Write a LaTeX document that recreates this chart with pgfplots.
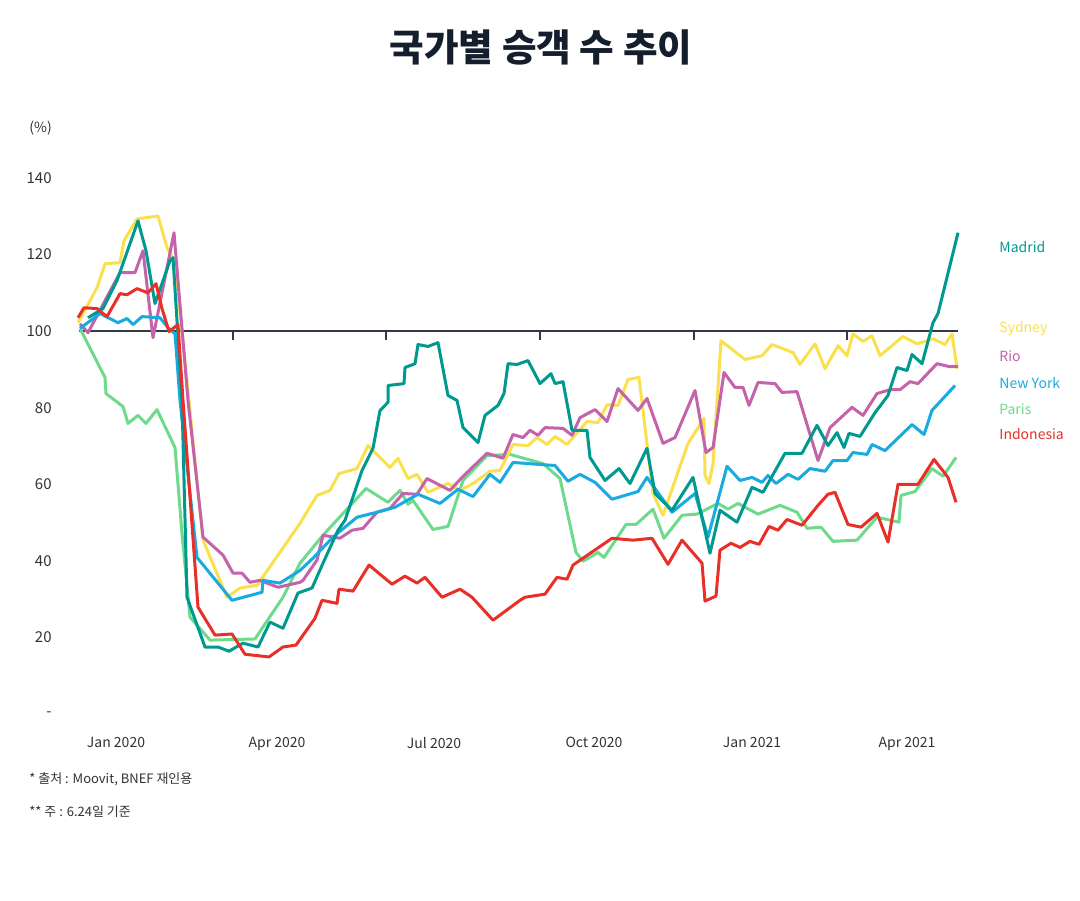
\documentclass[border=0pt]{standalone}
\usepackage{pgfplots}
\pgfplotsset{compat=1.18}
\usepackage{fontspec}
\setmainfont{Noto Sans CJK KR}
\definecolor{cmadrid}{RGB}{0,153,143}
\definecolor{csydney}{RGB}{250,224,76}
\definecolor{crio}{RGB}{196,98,170}
\definecolor{cny}{RGB}{24,170,224}
\definecolor{cparis}{RGB}{110,218,140}
\definecolor{cindo}{RGB}{232,48,40}
\definecolor{caxis}{RGB}{51,56,70}
\definecolor{ctitle}{RGB}{20,30,45}
\definecolor{ctext}{RGB}{50,50,50}
\begin{document}
\begin{tikzpicture}[x=0.5pt,y=0.5pt]
\useasboundingbox (0,0) rectangle (1080,900);
\begin{axis}[
  at={(39.5pt,93pt)}, anchor=south west,
  scale only axis, width=439.5pt, height=268pt,
  xmin=79, xmax=958, ymin=0, ymax=140,
  clip=false,
  axis line style={draw=none},
  tick style={draw=none},
  major tick length=0pt,
  /pgf/number format/assume math mode=true,
  ytick={0,20,40,60,80,100,120,140},
  yticklabels={-,20,40,60,80,100,120,140},
  yticklabel style={anchor=east, inner sep=0pt, xshift=-13.5pt, font=\fontsize{7.5}{9}\selectfont, text=ctext},
  xtick={116,277,434,594,752,907},
  xticklabels={Jan 2020,Apr 2020,Jul 2020,Oct 2020,Jan 2021,Apr 2021},
  xticklabel style={anchor=north, inner sep=0pt, yshift=-11.5pt, font=\fontsize{7}{9}\selectfont, text=ctext},
  every axis plot/.append style={line width=1.5pt, line join=round, no markers},
]
\draw[caxis, line width=1pt] (axis cs:79,100) -- (axis cs:958,100);
\draw[caxis, line width=1pt] (axis cs:233,100) -- (axis cs:233,97.7);
\draw[caxis, line width=1pt] (axis cs:386,100) -- (axis cs:386,97.7);
\draw[caxis, line width=1pt] (axis cs:540,100) -- (axis cs:540,97.7);
\draw[caxis, line width=1pt] (axis cs:694,100) -- (axis cs:694,97.7);
\draw[caxis, line width=1pt] (axis cs:847,100) -- (axis cs:847,97.7);
% Paris
\addplot[cparis] coordinates {
(80,100.7)(105,87.9)(106,83.7)(123,80.3)(128,75.9)(138,78.0)(146,75.9)(157,79.5)(175,69.6)(182,47.2)(190,25.3)(210,19.3)(255,19.6)(283,30.5)(300,39.4)(323,46.7)(366,58.9)(388,55.3)(400,58.4)(408,54.8)(413,55.8)(433,48.2)(448,49.0)(463,61.0)(487,67.5)(510,67.8)(543,65.4)(560,61.5)(576,42.2)(583,39.9)(598,42.2)(604,40.9)(626,49.5)(636,49.5)(653,53.5)(664,45.9)(682,51.9)(697,52.2)(718,55.0)(728,53.5)(738,55.0)(758,52.2)(780,54.5)(797,52.7)(807,48.5)(821,48.8)(833,45.1)(857,45.4)(877,51.4)(899,50.1)(901,57.1)(915,58.1)(932,64.1)(943,62.1)(956,67.0)
};
% Sydney
\addplot[csydney] coordinates {
(78,102.2)(97,111.3)(105,117.6)(120,117.9)(124,123.6)(137,129.3)(158,130.1)(167,121.8)(175,117.9)(203,45.4)(227,30.5)(240,32.9)(257,33.6)(300,49.8)(317,57.1)(330,58.4)(339,62.8)(357,64.1)(368,70.1)(390,64.4)(398,66.8)(408,61.5)(417,62.6)(428,57.9)(448,60.2)(460,58.4)(473,60.2)(490,63.4)(500,63.6)(513,70.4)(528,70.1)(537,72.2)(547,70.4)(555,72.5)(567,70.4)(587,76.4)(598,76.1)(607,80.8)(618,80.6)(628,87.4)(639,87.9)(653,57.6)(663,51.9)(688,70.7)(704,77.2)(705,62.3)(709,60.2)(713,65.4)(721,97.5)(745,92.6)(762,93.6)(772,96.5)(793,94.4)(800,91.3)(815,96.7)(825,90.2)(838,96.2)(847,93.6)(853,99.3)(863,97.3)(872,98.8)(880,93.6)(903,98.6)(917,96.7)(933,98.0)(945,96.5)(952,99.3)(957,90.2)
};
% Rio
\addplot[crio] coordinates {
(80,101.9)(88,99.6)(120,115.3)(135,115.3)(143,121.0)(153,98.3)(174,125.7)(188,81.9)(203,46.2)(223,41.5)(233,36.8)(242,36.8)(250,34.4)(260,34.9)(278,33.1)(300,34.4)(303,34.9)(317,40.2)(323,46.7)(340,45.9)(352,48.0)(363,48.5)(377,52.7)(390,53.7)(403,57.6)(417,57.4)(427,61.5)(450,58.4)(462,61.8)(487,68.1)(503,66.8)(513,73.0)(523,72.2)(530,74.1)(538,72.8)(545,74.8)(563,74.6)(572,72.8)(580,77.4)(595,79.5)(607,76.4)(618,85.0)(638,79.3)(647,82.4)(663,70.7)(675,72.2)(695,84.5)(706,68.3)(713,69.6)(724,89.2)(735,85.3)(743,85.3)(749,80.6)(758,86.6)(775,86.3)(782,84.0)(797,84.2)(818,66.2)(830,74.8)(852,80.1)(863,78.0)(877,83.7)(890,84.7)(900,84.7)(910,86.8)(918,86.3)(937,91.5)(950,90.7)(958,90.7)
};
% New York
\addplot[cny] coordinates {
(80,100.7)(100,104.6)(118,102.2)(127,103.3)(133,101.7)(142,103.8)(160,103.5)(168,100.9)(175,99.3)(180,81.9)(197,40.9)(232,29.7)(262,31.8)(263,34.9)(280,34.2)(300,37.5)(313,40.7)(333,46.2)(357,51.4)(377,52.7)(395,54.0)(418,57.4)(440,55.0)(458,58.7)(473,56.8)(490,62.6)(500,60.5)(513,65.7)(555,64.9)(568,60.8)(580,62.6)(595,60.5)(612,56.1)(638,58.1)(647,61.8)(672,52.7)(695,57.6)(708,46.2)(727,64.7)(740,61.0)(752,61.8)(762,60.5)(768,62.3)(776,60.2)(788,62.6)(798,61.3)(810,64.1)(825,63.4)(833,66.2)(847,66.2)(853,68.3)(867,67.8)(872,70.4)(885,68.8)(912,75.6)(924,73.0)(932,79.3)(955,85.8)
};
% Madrid
\addplot[cmadrid] coordinates {
(88,103.5)(103,105.9)(117,113.2)(138,128.8)(146,121.0)(155,107.2)(170,118.4)(173,119.2)(177,102.7)(182,81.9)(187,30.5)(205,17.5)(218,17.5)(229,16.4)(243,18.5)(258,17.5)(270,24.0)(283,22.4)(298,31.6)(312,32.9)(323,39.4)(338,48.0)(345,50.6)(362,63.6)(373,69.4)(380,79.3)(388,81.4)(388,85.8)(404,86.3)(405,90.5)(415,91.5)(418,96.5)(428,96.0)(438,97.0)(448,83.2)(457,81.9)(463,74.8)(478,70.9)(485,78.0)(498,80.6)(504,83.7)(508,91.5)(517,91.3)(528,92.3)(540,86.3)(551,88.9)(555,86.3)(563,86.8)(572,74.1)(587,74.1)(590,67.0)(605,61.0)(619,64.1)(630,60.2)(647,69.4)(655,57.6)(672,53.2)(693,61.8)(710,42.0)(720,53.2)(737,50.1)(752,59.2)(763,57.9)(785,68.1)(802,68.1)(817,75.4)(828,70.1)(837,73.5)(844,69.6)(849,73.3)(860,72.5)(875,78.7)(888,83.2)(897,90.5)(907,89.7)(912,93.9)(922,91.5)(933,102.2)(938,104.6)(958,125.7)
};
% Indonesia
\addplot[cindo] coordinates {
(78,103.5)(84,106.1)(97,105.9)(107,103.8)(120,109.8)(127,109.5)(137,111.1)(148,110.0)(156,112.4)(162,105.9)(169,99.9)(178,101.7)(183,81.9)(198,27.9)(215,20.6)(232,20.9)(245,15.6)(269,14.9)(283,17.5)(296,18.0)(315,25.0)(322,29.7)(337,28.9)(339,32.6)(353,32.1)(369,38.9)(392,33.9)(405,36.0)(417,34.2)(425,35.7)(442,30.5)(460,32.6)(472,30.5)(493,24.5)(520,29.7)(525,30.5)(545,31.3)(557,35.7)(567,35.2)(573,38.9)(612,45.9)(633,45.4)(652,45.9)(668,39.1)(682,45.4)(702,39.4)(705,29.5)(716,30.8)(720,42.8)(731,44.6)(740,43.5)(750,45.1)(759,44.3)(769,49.0)(778,48.0)(787,50.8)(802,49.3)(818,54.5)(828,57.4)(835,57.9)(848,49.5)(861,48.8)(877,52.4)(888,44.9)(898,60.0)(918,60.0)(934,66.5)(948,61.8)(956,55.3)
};
\end{axis}
% title
\node[font=\fontsize{18.8}{22}\selectfont\bfseries, text=ctitle] at (541,853) {국가별 승객 수 추이};
% unit
\node[anchor=west, inner sep=0pt, font=\fontsize{7}{9}\selectfont, text=ctext] at (29,772) {(\%)};
% series labels
\begin{scope}[every node/.style={anchor=west, inner sep=0pt, font=\fontsize{7}{9}\selectfont}]
\node[text=cmadrid] at (999,653) {Madrid};
\node[text=csydney] at (999,571) {Sydney};
\node[text=crio] at (999,544) {Rio};
\node[text=cny] at (999,517) {New York};
\node[text=cparis] at (999,491) {Paris};
\node[text=cindo] at (999,466) {Indonesia};
\end{scope}
% footnotes
\node[anchor=west, inner sep=0pt, font=\fontsize{6.5}{8}\selectfont, text=ctext] at (29,121) {* 출처 : Moovit, BNEF 재인용};
\node[anchor=west, inner sep=0pt, font=\fontsize{6.5}{8}\selectfont, text=ctext] at (29,88) {** 주 : 6.24일 기준};
\end{tikzpicture}
\end{document}
